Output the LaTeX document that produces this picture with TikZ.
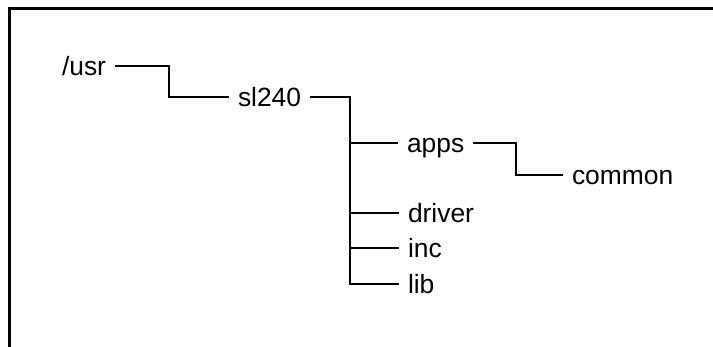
\documentclass[tikz,border=0pt]{standalone}
\usepackage{fontspec}
\setmainfont{Liberation Sans}
\begin{document}
\begin{tikzpicture}[x=1pt,y=-1pt,
  dir/.style={inner xsep=0pt, outer xsep=10pt, inner ysep=0pt, text height=18.7pt, text depth=0pt,
    font=\fontsize{26.4}{30}\selectfont, anchor=west},
  conn/.style={line width=2.8pt, line join=miter, line cap=rect},
  frame/.style={line width=3pt}]
\useasboundingbox (0,0) rectangle (713,347);
\draw[frame] (9,347) -- (9,9) -- (713,9);
\node[dir] (usr) at (52,66) {/usr};
\node[dir] (sl) at (228,97) {sl240};
\node[dir] (apps) at (397,143) {apps};
\node[dir] (common) at (562,175) {common};
\node[dir] (driver) at (398,213) {driver};
\node[dir] (inc) at (398,248) {inc};
\node[dir] (lib) at (398,284) {lib};
\coordinate (j1) at (169,97);
\coordinate (j2) at (350,284);
\coordinate (j3) at (516,175);
\draw[conn] (usr.east) -| (j1) -- (sl.west);
\draw[conn] (sl.east) -| (j2) -- (lib.west);
\draw[conn] (apps.west) -- (apps.west -| j2);
\draw[conn] (driver.west) -- (driver.west -| j2);
\draw[conn] (inc.west) -- (inc.west -| j2);
\draw[conn] (apps.east) -| (j3) -- (common.west);
\end{tikzpicture}
\end{document}
